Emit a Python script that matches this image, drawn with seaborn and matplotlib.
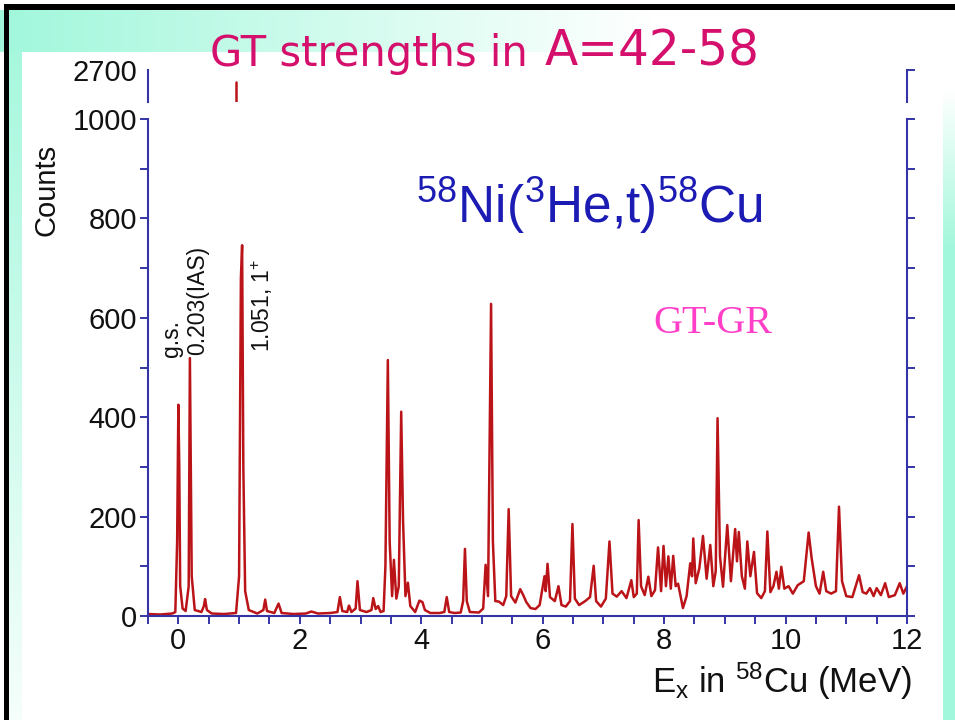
import numpy as np
import matplotlib
matplotlib.use("Agg")
import matplotlib.pyplot as plt
import seaborn as sns
import pandas as pd
from matplotlib.ticker import MultipleLocator, FixedLocator

# ---------------- data ----------------
energy_low = [-0.5, -0.3, -0.1, -0.05, -0.02, 0.0, 0.015, 0.03, 0.07, 0.12,
              0.17, 0.19, 0.205, 0.22, 0.27, 0.38, 0.42, 0.44, 0.47, 0.55,
              0.75, 0.95, 1.0, 1.03, 1.05, 1.07, 1.1, 1.16, 1.3, 1.4,
              1.43, 1.46, 1.58, 1.65, 1.7, 1.9, 2.1, 2.19, 2.3, 2.5]
counts_low = [4, 3, 5, 8, 150, 425, 300, 60, 15, 10,
              60, 519, 300, 80, 12, 8, 20, 34, 12, 5,
              4, 6, 80, 680, 746, 300, 50, 12, 5, 12,
              33, 10, 6, 25, 6, 4, 5, 9, 5, 6]

energy_3mev = [2.62, 2.66, 2.7, 2.78, 2.81, 2.85, 2.92, 2.95, 2.99, 3.1,
               3.18, 3.21, 3.25, 3.29, 3.33, 3.38, 3.41, 3.45, 3.48, 3.52,
               3.55, 3.59, 3.63, 3.67, 3.70, 3.74, 3.78, 3.82, 3.9, 3.97,
               4.02, 4.06, 4.15, 4.3, 4.38, 4.42, 4.46]
counts_3mev = [8, 38, 10, 8, 21, 8, 15, 70, 12, 8,
               12, 36, 14, 20, 8, 10, 100, 515, 150, 40,
               113, 35, 60, 411, 193, 40, 67, 20, 8, 31,
               28, 12, 6, 6, 8, 38, 8]

energy_5mev = [4.55, 4.65, 4.69, 4.72, 4.75, 4.8, 4.95, 5.02, 5.06, 5.1,
               5.15, 5.18, 5.22, 5.28, 5.35, 5.4, 5.44, 5.48, 5.55, 5.63,
               5.68, 5.73, 5.8, 5.88, 5.95, 6.03, 6.05, 6.08, 6.12, 6.2,
               6.26, 6.31, 6.38, 6.45, 6.49, 6.53]
counts_5mev = [6, 7, 30, 135, 30, 8, 7, 15, 103, 40,
               628, 150, 30, 29, 22, 40, 215, 40, 27, 54,
               42, 28, 16, 14, 22, 80, 50, 105, 38, 30,
               60, 22, 19, 30, 185, 35]

energy_7mev = [6.6, 6.7, 6.78, 6.84, 6.88, 6.96, 7.04, 7.1, 7.15, 7.22,
               7.3, 7.38, 7.46, 7.5, 7.55, 7.58, 7.62, 7.68, 7.74, 7.79,
               7.85, 7.9, 7.95, 7.99, 8.03, 8.07, 8.11, 8.15, 8.19, 8.23,
               8.31, 8.37, 8.43, 8.46, 8.48, 8.52, 8.58]
counts_7mev = [22, 30, 38, 101, 30, 19, 35, 150, 45, 39,
               50, 36, 72, 38, 45, 193, 60, 42, 79, 40,
               52, 138, 50, 141, 60, 120, 55, 121, 60, 65,
               16, 40, 106, 80, 156, 66, 96]

energy_high = [8.64, 8.7, 8.76, 8.81, 8.85, 8.88, 8.92, 8.97, 9.04, 9.1,
               9.17, 9.2, 9.23, 9.28, 9.33, 9.37, 9.42, 9.48, 9.53, 9.6,
               9.66, 9.70, 9.75, 9.8, 9.85, 9.89, 9.93, 9.98, 10.05, 10.12,
               10.2, 10.3, 10.38, 10.43, 10.5, 10.56, 10.62, 10.67, 10.75, 10.83,
               10.88, 10.93, 11.0, 11.1, 11.21, 11.27, 11.33, 11.39, 11.45, 11.5,
               11.57, 11.64, 11.7, 11.8, 11.88, 11.94, 12.0]
counts_high = [161, 75, 143, 60, 90, 398, 120, 59, 183, 70,
               175, 110, 169, 80, 55, 150, 80, 129, 46, 36,
               50, 170, 48, 60, 89, 55, 99, 55, 60, 45,
               62, 70, 168, 116, 60, 45, 89, 50, 45, 50,
               220, 70, 40, 38, 82, 48, 45, 56, 40, 56,
               42, 66, 38, 42, 66, 45, 60]

# fragment of the cut-off upper panel
upper_peak_energy = [0.95, 0.95]
upper_peak_counts = [2520, 2632]

x_ticks = [0, 2, 4, 6, 8, 10, 12]
y_ticks = [0, 200, 400, 600, 800, 1000]
upper_ticks = [2700]

peak_labels = ["g.s.", "0.203(IAS)", "1.051, 1$^{+}$"]
peak_label_x = [-0.12, 0.32, 1.38]
peak_label_y = [521, 525, 531]

# ---------------- styling ----------------
sns.set_theme(style="white")
plt.rcParams["font.family"] = ["Liberation Sans", "DejaVu Sans"]
plt.rcParams["mathtext.fontset"] = "custom"
plt.rcParams["mathtext.rm"] = "Liberation Sans"
plt.rcParams["mathtext.it"] = "Liberation Sans:italic"
plt.rcParams["mathtext.bf"] = "Liberation Sans:bold"

W, H = 955, 720
fig = plt.figure(figsize=(W / 100, H / 100), dpi=100)

# slide background
yy, xx = np.mgrid[0:H, 0:W]
alpha = np.zeros((H, W))
top_band = (yy >= 10) & (yy < 52)
alpha = np.where(top_band, np.clip(1 - xx / 650.0, 0, 1), alpha)
left_strip = (xx >= 9) & (xx < 22) & (yy >= 10)
alpha = np.where(left_strip, np.maximum(alpha, 1 - 0.9 * yy / H), alpha)
right_strip = (xx >= 942) & (yy >= 10)
alpha = np.where(right_strip, np.clip((yy - 90) / 160.0, 0, 1), alpha)
mint = np.array([0.63, 0.97, 0.86])
img = np.ones((H, W, 3)) * (1 - alpha[..., None]) + mint * alpha[..., None]
img[4:10, 4:, :] = 0.0
img[4:, 4:9, :] = 0.0
ax_bg = fig.add_axes([0, 0, 1, 1], zorder=-10)
ax_bg.imshow(img, extent=[0, W, H, 0], aspect="auto", interpolation="nearest")
ax_bg.set_xlim(0, W)
ax_bg.set_ylim(H, 0)
ax_bg.axis("off")

blue = "#3434a6"
red = "#bb1418"
txt = "#111111"


def fx(px):
    return px / W


def fy(py):
    return 1 - py / H


# main axes
ax = fig.add_axes([fx(148), fy(616), (907 - 148) / W, (616 - 119) / H])
ax.set_facecolor("none")
df = pd.concat([
    pd.DataFrame({"energy": energy_low, "counts": counts_low}),
    pd.DataFrame({"energy": energy_3mev, "counts": counts_3mev}),
    pd.DataFrame({"energy": energy_5mev, "counts": counts_5mev}),
    pd.DataFrame({"energy": energy_7mev, "counts": counts_7mev}),
    pd.DataFrame({"energy": energy_high, "counts": counts_high}),
], ignore_index=True)
sns.lineplot(data=df, x="energy", y="counts", ax=ax, color=red, lw=1.8,
             estimator=None, sort=False)
ax.set_xlim(-0.5, 12)
ax.set_ylim(0, 1000)
ax.set_xlabel("")
ax.set_ylabel("")
ax.xaxis.set_major_locator(FixedLocator(x_ticks))
ax.xaxis.set_minor_locator(MultipleLocator(0.5))
ax.yaxis.set_major_locator(FixedLocator(y_ticks))
ax.yaxis.set_minor_locator(MultipleLocator(100))
ax.spines["top"].set_visible(False)
for s in ["left", "right", "bottom"]:
    ax.spines[s].set_color(blue)
    ax.spines[s].set_linewidth(1.5)
ax.tick_params(which="both", direction="out", length=6, width=1.4, color=blue,
               labelsize=21, labelcolor=txt, pad=2)
ax.tick_params(axis="y", which="both", right=True, labelright=False, left=True)
ax.tick_params(axis="x", which="both", bottom=True, top=False)
ax.grid(False)

for lab, lx, ly in zip(peak_labels, peak_label_x, peak_label_y):
    ax.text(lx, ly, lab, rotation=90, ha="center", va="bottom", fontsize=16.5,
            color=txt)

# upper broken-axis fragment
ax_up = fig.add_axes([fx(148), fy(102), (907 - 148) / W, (102 - 70) / H])
ax_up.set_facecolor("none")
sns.lineplot(x=upper_peak_energy, y=upper_peak_counts, ax=ax_up, color=red,
             lw=1.8, estimator=None, sort=False)
ax_up.set_xlim(-0.5, 12)
ax_up.set_ylim(2520, 2700)
ax_up.set_xticks([])
ax_up.yaxis.set_major_locator(FixedLocator(upper_ticks))
ax_up.spines["top"].set_visible(False)
ax_up.spines["bottom"].set_visible(False)
for s in ["left", "right"]:
    ax_up.spines[s].set_color(blue)
    ax_up.spines[s].set_linewidth(1.5)
ax_up.tick_params(axis="y", direction="out", length=6, width=1.4, color=blue,
                  labelsize=21, labelcolor=txt, pad=2, right=True,
                  labelright=False)
ax_up.grid(False)

# texts
fig.text(fx(46), fy(190), "Counts", rotation=90, ha="center", va="center",
         fontsize=21, color=txt)
fig.text(fx(912), fy(681), r"E$_\mathregular{x}$ in $^\mathregular{58}$Cu (MeV)",
         ha="right", va="center", fontsize=25, color=txt)
fig.text(fx(589), fy(206), r"$^{58}$Ni($^{3}$He,t)$^{58}$Cu",
         ha="center", va="center", fontsize=37, color="#1c1cb4")
fig.text(fx(713), fy(324), "GT-GR", ha="center", va="center", fontsize=29,
         color="#ff3fc8", family=["Liberation Serif", "DejaVu Serif"])
fig.text(fx(528), fy(66), "GT strengths in", ha="right", va="baseline",
         fontsize=30, color="#d4106c", family=["DejaVu Sans"])
fig.text(fx(545), fy(66), "A=42-58", ha="left", va="baseline",
         fontsize=35, color="#d4106c", family=["DejaVu Sans"])

fig.savefig("out.png", dpi=100)
